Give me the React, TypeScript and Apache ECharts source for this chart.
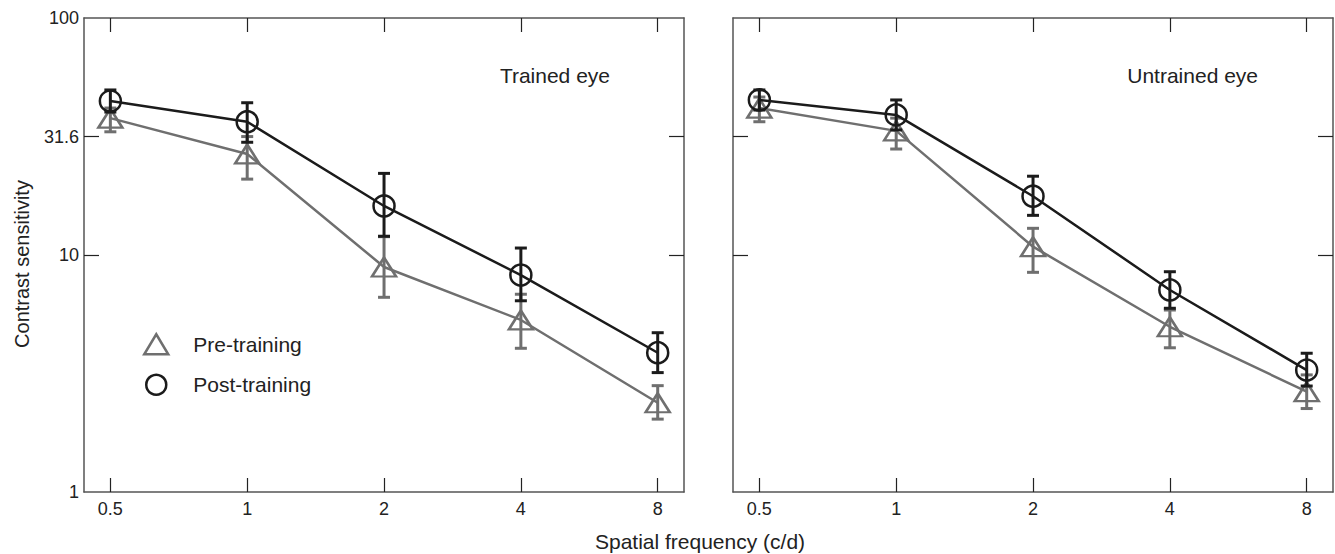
import React, { useEffect, useRef } from 'react';
import * as echarts from 'echarts';

// ---- data ----
const frequencies = [0.5, 1, 2, 4, 8];
const xTickValues = [0.5, 1, 2, 4, 8];
const yTickLabelValues = [1, 10, 31.6, 100];
const yTickMarkValues = [10, 31.6];
const panelTitles = ['Trained eye', 'Untrained eye'];
const legendNames = ['Pre-training', 'Post-training'];

const trainedPre = [37.8, 26.7, 8.9, 5.32, 2.38];
const trainedPreLow = [33.1, 20.9, 6.63, 4.04, 2.03];
const trainedPreHigh = [41.7, 31.6, 11.95, 6.83, 2.81];
const trainedPost = [44.6, 36.5, 16.1, 8.23, 3.87];
const trainedPostLow = [40.1, 29.9, 12.0, 6.41, 3.19];
const trainedPostHigh = [49.7, 43.9, 22.1, 10.7, 4.7];

const untrainedPre = [41.7, 33.4, 10.84, 4.98, 2.65];
const untrainedPreLow = [36.5, 28.0, 8.45, 4.06, 2.25];
const untrainedPreHigh = [46.4, 37.8, 12.96, 5.86, 3.12];
const untrainedPost = [45.1, 39.0, 17.7, 7.12, 3.27];
const untrainedPostLow = [40.9, 33.7, 14.7, 5.96, 2.8];
const untrainedPostHigh = [49.7, 45.1, 21.5, 8.5, 3.85];

const FONT = '"Liberation Sans", Arial, Helvetica, sans-serif';
const TEXT = '#222';
const GRAY = '#6f6f6f';
const BLACK = '#1b1b1b';
const FRAME = '#555';

const panels = [
  { pre: trainedPre, preLow: trainedPreLow, preHigh: trainedPreHigh, post: trainedPost, postLow: trainedPostLow, postHigh: trainedPostHigh },
  { pre: untrainedPre, preLow: untrainedPreLow, preHigh: untrainedPreHigh, post: untrainedPost, postLow: untrainedPostLow, postHigh: untrainedPostHigh },
];

function errorBarSeries(name: string, gridIdx: number, low: number[], high: number[], color: string, z: number) {
  return {
    type: 'custom',
    name,
    xAxisIndex: gridIdx * 2,
    yAxisIndex: gridIdx * 2,
    z,
    silent: true,
    encode: { x: 0, y: [1, 2] },
    data: frequencies.map((f, i) => [f, low[i], high[i]]),
    renderItem: (params: any, api: any) => {
      const x = api.value(0);
      const lo = api.coord([x, api.value(1)]);
      const hi = api.coord([x, api.value(2)]);
      const hw = 6;
      const style = { stroke: color, lineWidth: 3 };
      return {
        type: 'group',
        children: [
          { type: 'line', shape: { x1: hi[0], y1: hi[1], x2: lo[0], y2: lo[1] }, style },
          { type: 'line', shape: { x1: hi[0] - hw, y1: hi[1], x2: hi[0] + hw, y2: hi[1] }, style },
          { type: 'line', shape: { x1: lo[0] - hw, y1: lo[1], x2: lo[0] + hw, y2: lo[1] }, style },
        ],
      };
    },
  };
}

function lineSeries(name: string, gridIdx: number, values: number[], color: string, symbol: string, size: any, z: number) {
  return {
    type: 'line',
    name,
    xAxisIndex: gridIdx * 2,
    yAxisIndex: gridIdx * 2,
    z,
    silent: true,
    data: frequencies.map((f, i) => [f, values[i]]),
    symbol,
    symbolSize: size,
    showAllSymbol: true,
    lineStyle: { color, width: 2.5 },
    itemStyle: { color: 'none', borderColor: color, borderWidth: 2.5 },
  };
}

export default function App() {
  const ref = useRef<HTMLDivElement>(null);
  useEffect(() => {
    document.body.style.margin = '0';
    if (!ref.current) return;
    const chart = echarts.init(ref.current, null, { renderer: 'svg' });
    const grids = [
      { left: 84, top: 18, width: 600, height: 474 },
      { left: 733, top: 18, width: 600, height: 474 },
    ];
    const xAxes: any[] = [];
    const yAxes: any[] = [];
    grids.forEach((_, g) => {
      ['bottom', 'top'].forEach((pos) => {
        xAxes.push({
          gridIndex: g,
          type: 'log',
          logBase: 2,
          min: 0.4375,
          max: 9.14,
          position: pos,
          axisLine: { show: true, lineStyle: { color: FRAME, width: 1.5 } },
          axisTick: { show: true, inside: true, length: 14, customValues: xTickValues, lineStyle: { color: TEXT, width: 1.2 } },
          axisLabel: {
            show: pos === 'bottom',
            customValues: xTickValues,
            margin: 8,
            fontSize: 18,
            color: TEXT,
            fontFamily: FONT,
            formatter: (v: number) => String(v),
          },
          splitLine: { show: false },
          minorTick: { show: false },
        });
      });
      ['left', 'right'].forEach((pos) => {
        const showLabel = g === 0 && pos === 'left';
        yAxes.push({
          gridIndex: g,
          type: 'log',
          logBase: 10,
          min: 1,
          max: 100,
          position: pos,
          name: showLabel ? 'Contrast sensitivity' : '',
          nameLocation: 'middle',
          nameGap: 52,
          nameTextStyle: { fontSize: 20, color: TEXT, fontFamily: FONT, padding: [0, 18, 0, 0] },
          axisLine: { show: true, lineStyle: { color: FRAME, width: 1.5 } },
          axisTick: { show: true, inside: true, length: 15, customValues: yTickMarkValues, lineStyle: { color: TEXT, width: 1.2 } },
          axisLabel: {
            show: showLabel,
            customValues: yTickLabelValues,
            margin: 5,
            fontSize: 18,
            color: TEXT,
            fontFamily: FONT,
            formatter: (v: number) => String(v),
          },
          splitLine: { show: false },
          minorTick: { show: false },
        });
      });
    });

    const series: any[] = [];
    panels.forEach((p, g) => {
      series.push(lineSeries(legendNames[0], g, p.pre, GRAY, 'triangle', [24, 19], 2));
      series.push(errorBarSeries('Pre-training error', g, p.preLow, p.preHigh, GRAY, 3));
      series.push(lineSeries(legendNames[1], g, p.post, BLACK, 'circle', 21, 4));
      series.push(errorBarSeries('Post-training error', g, p.postLow, p.postHigh, BLACK, 5));
    });

    chart.setOption({
      animation: false,
      grid: grids.map((gr) => ({ ...gr, containLabel: false, outerBoundsMode: 'none' })),
      xAxis: xAxes,
      yAxis: yAxes,
      legend: {
        left: 143,
        top: 333,
        padding: 0,
        orient: 'vertical',
        itemWidth: 24,
        itemHeight: 20,
        itemGap: 18,
        selectedMode: false,
        textStyle: { fontSize: 21, color: TEXT, fontFamily: FONT, padding: [0, 0, 0, 20] },
        data: [
          { name: legendNames[0], icon: 'triangle', itemStyle: { color: '#fff', borderColor: GRAY, borderWidth: 2.5 } },
          { name: legendNames[1], icon: 'circle', itemStyle: { color: '#fff', borderColor: BLACK, borderWidth: 2.5 } },
        ],
      },
      graphic: [
        { type: 'text', x: 610, y: 75, style: { text: panelTitles[0], fontSize: 21, fill: TEXT, fontFamily: FONT, align: 'right', verticalAlign: 'middle' } },
        { type: 'text', x: 1258, y: 75, style: { text: panelTitles[1], fontSize: 21, fill: TEXT, fontFamily: FONT, align: 'right', verticalAlign: 'middle' } },
        { type: 'text', x: 700, y: 541, style: { text: 'Spatial frequency (c/d)', fontSize: 21, fill: TEXT, fontFamily: FONT, align: 'center', verticalAlign: 'middle' } },
      ],
      series,
    });
    return () => chart.dispose();
  }, []);
  return <div ref={ref} style={{ width: 1335, height: 554 }} />;
}
